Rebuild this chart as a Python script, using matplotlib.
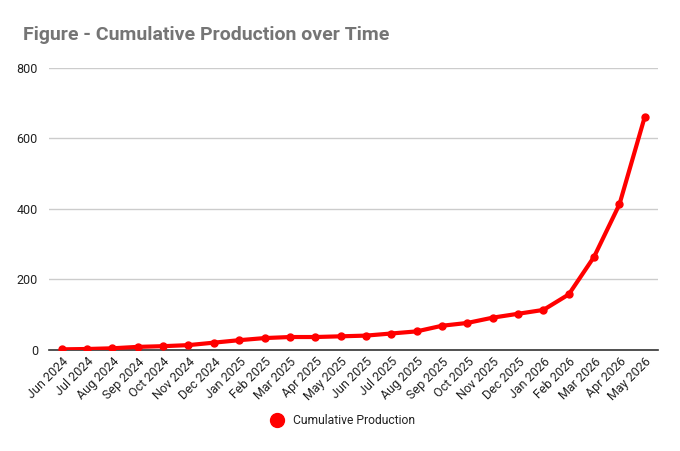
import matplotlib
matplotlib.use("Agg")
import matplotlib.pyplot as plt
from matplotlib.lines import Line2D

months = ["Jun 2024", "Jul 2024", "Aug 2024", "Sep 2024", "Oct 2024", "Nov 2024",
          "Dec 2024", "Jan 2025", "Feb 2025", "Mar 2025", "Apr 2025", "May 2025",
          "Jun 2025", "Jul 2025", "Aug 2025", "Sep 2025", "Oct 2025", "Nov 2025",
          "Dec 2025", "Jan 2026", "Feb 2026", "Mar 2026", "Apr 2026", "May 2026"]
production = [1, 2, 4, 8, 10, 13, 20, 27, 33, 36, 36, 38,
              40, 46, 52, 68, 76, 91, 102, 113, 157, 264, 413, 662]
y_ticks = [0, 200, 400, 600, 800]

plt.rcParams['font.family'] = ['Roboto', 'DejaVu Sans']

fig = plt.figure(figsize=(6.8, 4.51), dpi=100)
ax = fig.add_axes([49/680, 1 - 349.7/451, (657.5 - 49) / 680, (349.7 - 68) / 451])

x = list(range(len(months)))
ax.plot(x, production, color='#ff0000', lw=3, marker='o', ms=5, zorder=3,
        solid_capstyle='round', solid_joinstyle='round')

ax.set_xlim(-0.5, len(months) - 0.5)
ax.set_ylim(0, 800)
ax.set_yticks(y_ticks)
ax.set_yticklabels([str(v) for v in y_ticks], fontsize=9, color='#222222')
ax.set_xticks(x)
ax.set_xticklabels(months, rotation=45, ha='right', rotation_mode='anchor',
                   fontsize=9, color='#222222')
ax.tick_params(axis='both', length=0)
ax.tick_params(axis='y', pad=8)
ax.tick_params(axis='x', pad=4)

ax.grid(axis='y', color='#cccccc', lw=1)
ax.set_axisbelow(True)
for s in ['top', 'right', 'left']:
    ax.spines[s].set_visible(False)
ax.spines['bottom'].set_color('#333333')
ax.spines['bottom'].set_linewidth(1.2)
ax.spines['bottom'].set_zorder(2.5)

fig.text(23/680, 1 - 35/451, "Figure - Cumulative Production over Time",
         fontsize=14, fontweight='bold', color='#757575', va='center', ha='left')

handle = Line2D([], [], color='#ff0000', marker='o', ls='none', ms=10)
fig.legend([handle], ["Cumulative Production"], loc='center',
           bbox_to_anchor=(340/680, 1 - 421/451), frameon=False, fontsize=8.7,
           labelcolor='#222222', handletextpad=0.4)

fig.savefig("out.png", dpi=100)
